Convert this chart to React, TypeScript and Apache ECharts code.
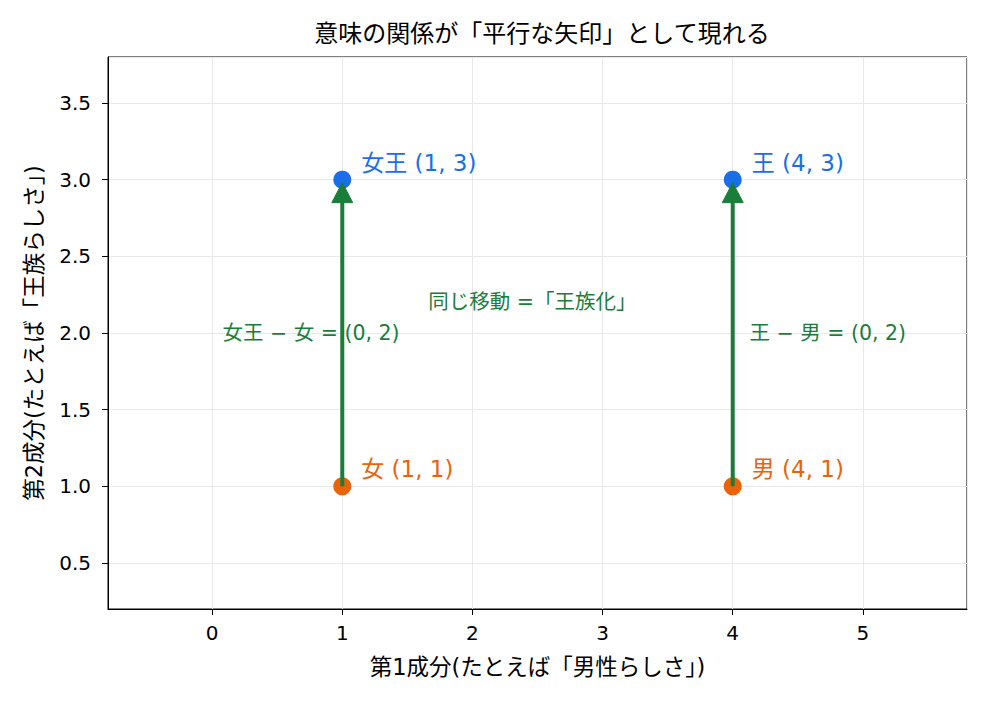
import React, { useEffect, useRef } from "react";
import * as echarts from "echarts";

const TITLE = "意味の関係が「平行な矢印」として現れる";
const X_NAME = "第1成分(たとえば「男性らしさ」)";
const Y_NAME = "第2成分(たとえば「王族らしさ」)";

const wordNames = ["女", "男", "女王", "王"];
const wordX = [1, 4, 1, 4];
const wordY = [1, 1, 3, 3];
const wordColors = ["#e8630a", "#e8630a", "#1a6fe8", "#1a6fe8"];

const arrowFromX = [1, 4];
const arrowFromY = [1, 1];
const arrowToX = [1, 4];
const arrowToY = [3, 3];

const noteTexts = ["女王 − 女 = (0, 2)", "王 − 男 = (0, 2)", "同じ移動 =「王族化」"];
const noteX = [0.76, 4.73, 2.46];
const noteY = [2.0, 2.0, 2.2];

const GREEN = "#1b7d3a";
const FONT = "'DejaVu Sans', 'Noto Sans CJK JP', sans-serif";

export default function App() {
  const ref = useRef<HTMLDivElement>(null);
  useEffect(() => {
    if (!ref.current) return;
    const chart = echarts.init(ref.current, null, { renderer: "svg" });
    const pointData = wordNames.map((n, i) => ({
      value: [wordX[i], wordY[i]],
      name: `${n} (${wordX[i]}, ${wordY[i]})`,
      itemStyle: { color: wordColors[i], opacity: 1 },
      label: { color: wordColors[i] },
    }));
    const arrowData = arrowFromX.map((_, i) => [arrowFromX[i], arrowFromY[i], arrowToX[i], arrowToY[i]]);
    const noteData = noteTexts.map((t, i) => ({ value: [noteX[i], noteY[i]], name: t }));

    chart.setOption({
      animation: false,
      backgroundColor: "#ffffff",
      textStyle: { fontFamily: FONT },
      title: {
        text: TITLE,
        left: 537,
        top: 17,
        textAlign: "center",
        textStyle: { fontFamily: FONT, fontSize: 24, fontWeight: "normal", color: "#000" },
      },
      grid: {
        left: 108,
        right: 25,
        top: 57,
        bottom: 95,
        show: true,
        borderColor: "#000",
        borderWidth: 1,
        backgroundColor: "transparent",
      },
      xAxis: {
        type: "value",
        min: -0.8,
        max: 5.8,
        splitNumber: 6,
        name: X_NAME,
        nameLocation: "middle",
        nameGap: 47,
        nameTextStyle: { fontFamily: FONT, fontSize: 22.5, color: "#000" },
        axisLine: { show: true, onZero: false, lineStyle: { color: "#000", width: 1 } },
        axisTick: { show: true, length: 6, lineStyle: { color: "#000" } },
        axisLabel: { fontSize: 20, color: "#000", margin: 14, showMinLabel: false, showMaxLabel: false, fontFamily: FONT },
        splitLine: { show: true, lineStyle: { color: "#e8e8e8", width: 1 } },
      },
      yAxis: {
        type: "value",
        min: 0.2,
        max: 3.8,
        splitNumber: 7,
        name: Y_NAME,
        nameLocation: "middle",
        nameGap: 63,
        nameRotate: 90,
        nameTextStyle: { fontFamily: FONT, fontSize: 22.5, color: "#000" },
        axisLine: { show: true, onZero: false, lineStyle: { color: "#000", width: 1 } },
        axisTick: { show: true, length: 6, lineStyle: { color: "#000" } },
        axisLabel: {
          fontSize: 20,
          color: "#000",
          margin: 17,
          showMinLabel: false,
          showMaxLabel: false,
          fontFamily: FONT,
          formatter: (v: number) => v.toFixed(1),
        },
        splitLine: { show: true, lineStyle: { color: "#e8e8e8", width: 1 } },
      },
      series: [
        {
          type: "scatter",
          symbolSize: 18,
          z: 2,
          itemStyle: { opacity: 1 },
          data: pointData,
          label: {
            show: true,
            position: "right",
            distance: 10,
            offset: [0, -17],
            formatter: (p: any) => p.name,
            fontSize: 23,
            fontFamily: FONT,
          },
        },
        {
          type: "custom",
          z: 3,
          data: arrowData,
          renderItem: (params: any, api: any) => {
            const from = api.coord([api.value(0), api.value(1)]);
            const to = api.coord([api.value(2), api.value(3)]);
            const dx = to[0] - from[0];
            const dy = to[1] - from[1];
            const len = Math.sqrt(dx * dx + dy * dy);
            const ux = dx / len;
            const uy = dy / len;
            const tip = [to[0] - ux * 3, to[1] - uy * 3];
            const headLen = 20;
            const headHalf = 10.5;
            const base = [tip[0] - ux * headLen, tip[1] - uy * headLen];
            const px = -uy;
            const py = ux;
            return {
              type: "group",
              children: [
                {
                  type: "line",
                  shape: { x1: from[0], y1: from[1], x2: base[0] + ux * 2, y2: base[1] + uy * 2 },
                  style: { stroke: GREEN, lineWidth: 4 },
                },
                {
                  type: "polygon",
                  shape: {
                    points: [
                      tip,
                      [base[0] + px * headHalf, base[1] + py * headHalf],
                      [base[0] - px * headHalf, base[1] - py * headHalf],
                    ],
                  },
                  style: { fill: GREEN, stroke: GREEN, lineWidth: 1 },
                },
              ],
            };
          },
        },
        {
          type: "scatter",
          symbolSize: 0,
          z: 4,
          itemStyle: { opacity: 1 },
          data: noteData,
          label: {
            show: true,
            position: "inside",
            formatter: (p: any) => p.name,
            color: GREEN,
            fontSize: 20.5,
            fontFamily: FONT,
          },
        },
      ],
    });
    return () => chart.dispose();
  }, []);
  return <div ref={ref} style={{ width: 992, height: 704, position: "absolute", left: 0, top: 0 }} />;
}
